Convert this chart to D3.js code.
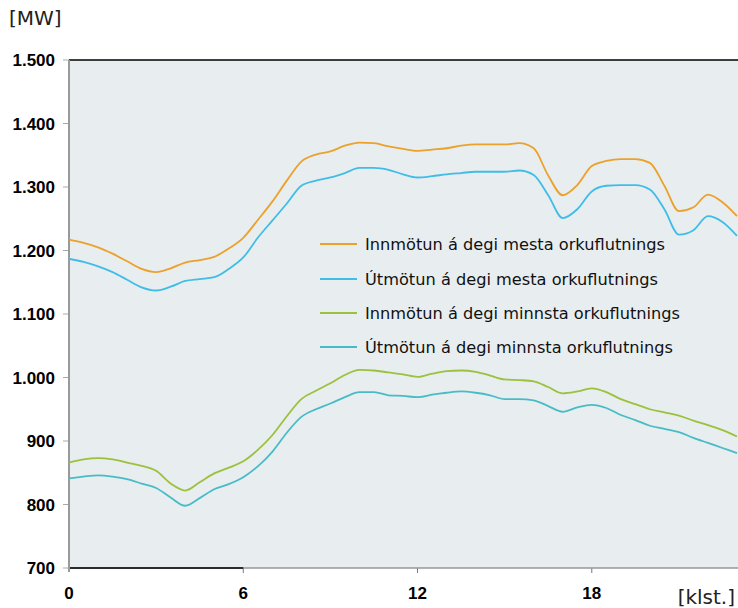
<!DOCTYPE html>
<html>
<head>
    <meta charset="utf-8" />
    <title>Innmötun og útmötun</title>
    <style>
        body { margin: 0; background: #fff; }
        .tick-y { font-family: "Liberation Sans", Arial, sans-serif; font-weight: bold; font-size: 17px; fill: #000; }
        .legend text { font-family: "DejaVu Sans", Verdana, sans-serif; font-size: 16.2px; fill: #111; }
        .unit { font-family: "DejaVu Sans", Verdana, sans-serif; font-size: 20px; fill: #222; }
    </style>
</head>
<body>
    <svg id="chart" width="738" height="608"></svg>
    <script src="https://d3js.org/d3.v7.min.js"></script>
    <script>
        // hours, half-hourly
        var hours = d3.range(0, 23.01, 0.5);

        var innMesta = [1217, 1212, 1205, 1195, 1183, 1171, 1166, 1172, 1181, 1185, 1190, 1203,
            1220, 1248, 1277, 1310, 1340, 1351, 1356, 1365, 1370, 1369, 1364, 1360,
            1357, 1359, 1361, 1365, 1367, 1367, 1367, 1369, 1361, 1318, 1287, 1303,
            1333, 1341, 1344, 1344, 1338, 1302, 1262, 1268, 1288, 1276, 1254];
        var utMesta = [1187, 1182, 1175, 1166, 1154, 1142, 1137, 1143, 1152, 1155, 1158, 1171,
            1189, 1220, 1247, 1274, 1302, 1310, 1315, 1322, 1330, 1330, 1327, 1320,
            1315, 1317, 1320, 1322, 1324, 1324, 1324, 1326, 1319, 1287, 1251, 1265,
            1293, 1302, 1303, 1303, 1296, 1265, 1225, 1232, 1254, 1245, 1223];
        var innMinnsta = [866, 871, 873, 871, 866, 861, 853, 833, 822, 835, 849, 858,
            868, 886, 909, 939, 966, 979, 991, 1004, 1012, 1011, 1008, 1005,
            1001, 1006, 1010, 1011, 1009, 1003, 997, 996, 994, 985, 975, 978,
            983, 977, 966, 958, 950, 945, 940, 932, 925, 917, 907];
        var utMinnsta = [841, 844, 846, 844, 840, 833, 826, 811, 798, 810, 824, 832,
            843, 860, 883, 913, 938, 950, 959, 969, 977, 977, 972, 971,
            969, 973, 976, 978, 976, 972, 966, 966, 964, 955, 946, 953,
            957, 952, 941, 933, 924, 919, 914, 905, 897, 889, 881];

        var seriesNames = ["Innmötun á degi mesta orkuflutnings", "Útmötun á degi mesta orkuflutnings",
            "Innmötun á degi minnsta orkuflutnings", "Útmötun á degi minnsta orkuflutnings"];
        var seriesColors = ["#eba12a", "#3fbde7", "#9cc13c", "#48bcc6"];
        var seriesValues = [innMesta, utMesta, innMinnsta, utMinnsta];

        var yTicks = [700, 800, 900, 1000, 1100, 1200, 1300, 1400, 1500];
        var xTicks = [0, 6, 12, 18];

        var svg = d3.select("#chart");
        var plotL = 69, plotT = 60, plotB = 568, plotR = 738;

        var x = d3.scaleLinear().domain([0, 23]).range([plotL, 737]);
        var y = d3.scaleLinear().domain([700, 1500]).range([plotB, plotT]);

        // plot background
        svg.append("rect")
            .attr("x", plotL).attr("y", plotT)
            .attr("width", plotR - plotL).attr("height", plotB - plotT)
            .attr("fill", "#e8edf0");

        // y ticks and labels
        var fmt = function(v) { return d3.format(",")(v).replace(",", "."); };
        yTicks.forEach(function(v) {
            svg.append("line")
                .attr("x1", plotL - 6).attr("x2", plotL)
                .attr("y1", y(v)).attr("y2", y(v))
                .attr("stroke", "#aaa").attr("stroke-width", 1);
            svg.append("text")
                .attr("class", "tick-y")
                .attr("x", 55).attr("y", y(v))
                .attr("dy", "0.36em")
                .attr("text-anchor", "end")
                .text(fmt(v));
        });

        // x ticks and labels
        xTicks.forEach(function(v) {
            if (v > 0) {
                svg.append("line")
                    .attr("x1", x(v)).attr("x2", x(v))
                    .attr("y1", plotB).attr("y2", plotB + 5)
                    .attr("stroke", "#777").attr("stroke-width", 1);
            }
            svg.append("text")
                .attr("class", "tick-y")
                .attr("x", x(v)).attr("y", 599)
                .attr("text-anchor", "middle")
                .text(v);
        });

        // axis frame
        svg.append("line")
            .attr("x1", plotL).attr("x2", plotR).attr("y1", plotT).attr("y2", plotT)
            .attr("stroke", "#000").attr("stroke-width", 1.5);
        svg.append("line")
            .attr("x1", plotL).attr("x2", plotR).attr("y1", plotB).attr("y2", plotB)
            .attr("stroke", "#999").attr("stroke-width", 1.5);
        svg.append("line")
            .attr("x1", plotL).attr("x2", x(6)).attr("y1", plotB).attr("y2", plotB)
            .attr("stroke", "#000").attr("stroke-width", 1.5);
        svg.append("line")
            .attr("x1", plotL).attr("x2", plotL).attr("y1", plotT).attr("y2", plotB + 4)
            .attr("stroke", "#999").attr("stroke-width", 2);

        // lines
        var line = d3.line()
            .x(function(d, i) { return x(hours[i]); })
            .y(function(d) { return y(d); })
            .curve(d3.curveMonotoneX);

        seriesValues.forEach(function(vals, i) {
            svg.append("path")
                .datum(vals)
                .attr("fill", "none")
                .attr("stroke", seriesColors[i])
                .attr("stroke-width", 1.8)
                .attr("d", line);
        });

        // legend
        var legend = svg.append("g").attr("class", "legend");
        var legendY = [244, 279, 313, 347];
        seriesNames.forEach(function(name, i) {
            legend.append("line")
                .attr("x1", 320).attr("x2", 357)
                .attr("y1", legendY[i]).attr("y2", legendY[i])
                .attr("stroke", seriesColors[i]).attr("stroke-width", 2);
            legend.append("text")
                .attr("x", 365).attr("y", legendY[i])
                .attr("dy", "0.36em")
                .text(name);
        });

        // units
        svg.append("text").attr("class", "unit")
            .attr("x", 9).attr("y", 25).text("[MW]");
        svg.append("text").attr("class", "unit")
            .attr("x", 735).attr("y", 604)
            .attr("text-anchor", "end").text("[klst.]");
    </script>
</body>
</html>
